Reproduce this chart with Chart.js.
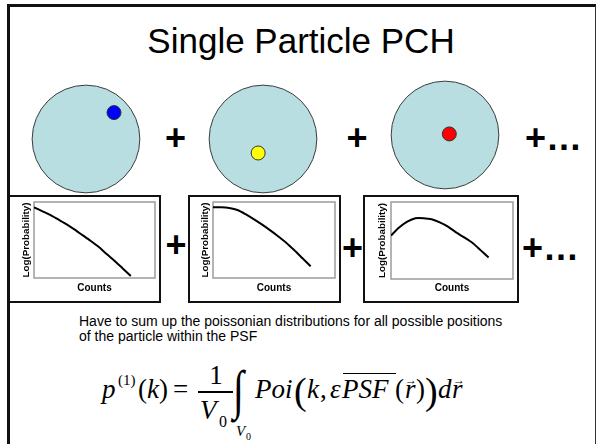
<!DOCTYPE html>
<html>
<head>
<meta charset="utf-8">
<script src="https://cdn.jsdelivr.net/npm/chart.js@4.4.0/dist/chart.umd.min.js"></script>
<style>
  html, body { margin: 0; padding: 0; background: #fff; }
  #slide { position: relative; width: 596px; height: 444px; overflow: hidden; background: #fff; }
  #frame { position: absolute; left: 7px; top: 4px; width: 589px; height: 460px; box-sizing: border-box;
           border-top: 3px solid #111; border-left: 3px solid #111; border-right: 1px solid #333; }
  .box { position: absolute; box-sizing: border-box; border: 2px solid #111; background: #fff; }
  canvas { position: absolute; }
  .t { position: absolute; white-space: nowrap; }
  .rule { position: absolute; background: #000; }
</style>
</head>
<body>
<div id="slide">
  <div id="frame"></div>
  <div class="box" style="left:8px;top:195px;width:153px;height:108px"></div>
  <div class="box" style="left:188px;top:195px;width:153px;height:108px"></div>
  <div class="box" style="left:363px;top:195px;width:156px;height:108px"></div>
  <canvas id="psf1" width="112" height="112"></canvas>
  <canvas id="psf2" width="112" height="112"></canvas>
  <canvas id="psf3" width="112" height="112"></canvas>
  <canvas id="pch1" width="149" height="104"></canvas>
  <canvas id="pch2" width="149" height="104"></canvas>
  <canvas id="pch3" width="152" height="104"></canvas>
</div>
<script>
// ---- data ----
// particle position inside the PSF volume, in units of the PSF radius
const particleX = [0.52, -0.09, 0.08];
const particleY = [0.49, -0.26, 0.02];
const particleColors = ['#0000ff', '#ffff00', '#ff0000'];
const psfRadius = 1;

// photon counts and log-probability of each single-position distribution
const counts = [0, 1, 2, 3, 4, 5, 6, 7, 8, 9, 10, 11, 12];
const logProbEdge   = [-0.7, -1.2, -1.7, -2.3, -2.9, -3.6, -4.35, -5.1, -5.9, -6.85, -7.75, -8.75, -9.75];
const logProbMid    = [-0.7, -0.7, -0.8, -1.05, -1.6, -2.25, -2.95, -3.7, -4.5, -5.35, -6.35, -7.4, -8.45];
const logProbCenter = [-4.35, -3.3, -2.55, -2.1, -2.1, -2.25, -2.65, -3.2, -3.95, -4.6, -5.3, -6.25, -7.2];

const xTitle = 'Counts';
const yTitle = 'Log(Probability)';

// ---- text helpers ----
const slide = document.getElementById('slide');
const SERIF = "'Liberation Serif', 'Times New Roman', serif";
const SANS = "'Liberation Sans', Arial, sans-serif";
function txt(str, x, base, size, o = {}) {
  const fam = o.family || SANS;
  const k = fam === SERIF ? 0.8375 : 0.8465;
  const s = document.createElement('span');
  s.className = 't';
  s.textContent = str;
  s.style.fontFamily = fam;
  s.style.fontSize = size + 'px';
  s.style.lineHeight = size + 'px';
  s.style.top = (base - k * size) + 'px';
  s.style.left = x + 'px';
  if (o.italic) s.style.fontStyle = 'italic';
  if (o.bold) s.style.fontWeight = 'bold';
  const tf = [];
  if (o.center) tf.push('translateX(-50%)');
  if (o.scaleY) tf.push('scaleY(' + o.scaleY + ')');
  if (tf.length) s.style.transform = tf.join(' ');
  s.style.color = '#000';
  slide.appendChild(s);
  return s;
}
function rule(x, y, w, h) {
  const d = document.createElement('div');
  d.className = 'rule';
  Object.assign(d.style, { left: x + 'px', top: y + 'px', width: w + 'px', height: h + 'px' });
  slide.appendChild(d);
}

// title
txt('Single Particle PCH', 301, 53, 35, { center: true });

// plus signs between the PSF pictures and between the histograms
txt('+', 175.5, 150, 36, { bold: true, center: true });
txt('+', 357, 150, 36, { bold: true, center: true });
txt('+\u2026', 525, 150, 36, { bold: true });
txt('+', 176, 257, 36, { bold: true, center: true });
txt('+', 352.5, 260, 36, { bold: true, center: true });
txt('+\u2026', 522, 260, 36, { bold: true });

// caption
txt('Have to sum up the poissonian distributions for all possible positions', 79, 326, 14);
txt('of the particle within the PSF', 79, 341, 14);

// formula  p(1)(k) = 1/V0 \int_{V0} Poi(k, eps PSF(r)) dr
const B = 399, F = 27;
txt('p', 102, B, F, { family: SERIF, italic: true });
txt('(1)', 118, B - 13, 15, { family: SERIF });
txt('(', 138, B, F, { family: SERIF });
txt('k', 147, B, F, { family: SERIF, italic: true });
txt(')', 159, B, F, { family: SERIF });
txt('=', 173, B, F, { family: SERIF });
txt('1', 216, B - 14, F, { family: SERIF, center: true });
rule(198, 391, 35, 1.5);
txt('V', 200, B + 21, F, { family: SERIF, italic: true });
txt('0', 219, B + 28, 16, { family: SERIF });
txt('\u222B', 233, B + 4, 40, { family: SERIF, scaleY: 1.35 });
txt('V', 236, B + 38, 15, { family: SERIF, italic: true });
txt('0', 246, B + 41, 10, { family: SERIF });
txt('Poi', 255, B, F, { family: SERIF, italic: true });
txt('(', 294, B + 5, 38, { family: SERIF });
txt('k', 307, B, F, { family: SERIF, italic: true });
txt(',', 320, B, F, { family: SERIF });
txt('\u03B5', 330, B, F, { family: SERIF, italic: true });
txt('PSF', 342, B, F, { family: SERIF, italic: true });
rule(343, 373, 53, 1.2);
txt('(', 395, B, F, { family: SERIF });
txt('r', 405, B, F, { family: SERIF, italic: true });
txt('\u2192', 405, B - 15, 12, { family: SERIF });
txt(')', 416, B, F, { family: SERIF });
txt(')', 425, B + 5, 38, { family: SERIF });
txt('d', 438, B, F, { family: SERIF, italic: true });
txt('r', 452, B, F, { family: SERIF, italic: true });
txt('\u2192', 453, B - 15, 12, { family: SERIF });

// ---- PSF pictures: observation volume with one particle in it ----
const psfFrames = [
  { x: 86, y: 138.5 },
  { x: 263, y: 138.5 },
  { x: 444.5, y: 135 }
];
function drawPsf(id, i) {
  const cv = document.getElementById(id);
  const f = psfFrames[i];
  cv.style.left = (f.x - cv.width / 2) + 'px';
  cv.style.top = (f.y - cv.height / 2) + 'px';
  const pxRadius = c => {
    const sx = c.chart.scales.x;
    return Math.abs(sx.getPixelForValue(psfRadius) - sx.getPixelForValue(0));
  };
  new Chart(cv, {
    type: 'scatter',
    data: {
      datasets: [
        { data: [{ x: particleX[i], y: particleY[i] }], pointRadius: 7,
          backgroundColor: particleColors[i], borderColor: '#333', borderWidth: 1 },
        { data: [{ x: 0, y: 0 }], pointRadius: pxRadius,
          backgroundColor: '#b8dee2', borderColor: '#3c3c3c', borderWidth: 1 }
      ]
    },
    options: {
      responsive: false, animation: false, events: [],
      layout: { autoPadding: false, padding: 0 },
      plugins: { legend: { display: false }, tooltip: { enabled: false } },
      scales: {
        x: { type: 'linear', min: -1.04, max: 1.04, display: false },
        y: { type: 'linear', min: -1.04, max: 1.04, display: false }
      },
      clip: false
    }
  });
}
drawPsf('psf1', 0);
drawPsf('psf2', 1);
drawPsf('psf3', 2);

// ---- photon counting histograms (log scale) ----
const pchFrames = [
  { cx: 10,  cy: 197, plot: [34, 202, 155, 278],  yTitleX: 26 },
  { cx: 190, cy: 197, plot: [213, 202, 335, 278], yTitleX: 205 },
  { cx: 365, cy: 197, plot: [391, 202, 513, 279], yTitleX: 382 }
];
const xTitleY = 288;
const yFont = { family: SANS, size: 9.8, weight: 'bold' };
const xFont = { family: SANS, size: 10, weight: 'bold' };

const plotBorder = {
  id: 'plotBorder',
  beforeDatasetsDraw(chart) {
    const a = chart.chartArea, c = chart.ctx;
    c.save();
    c.strokeStyle = '#9c9c9c';
    c.lineWidth = 1.5;
    c.strokeRect(a.left, a.top, a.right - a.left, a.bottom - a.top);
    c.restore();
  }
};

function drawPch(id, i, values) {
  const cv = document.getElementById(id);
  const f = pchFrames[i];
  cv.style.left = f.cx + 'px';
  cv.style.top = f.cy + 'px';
  const W = cv.width, H = cv.height;
  const [pl, pt, pr, pb] = f.plot.map((v, k) => v - (k % 2 ? f.cy : f.cx));
  const yLH = yFont.size * 1.2, xLH = xFont.size * 1.2;
  // left: layout padding + rotated title
  const titleCx = f.yTitleX - f.cx;
  const padL = titleCx - yLH / 2;
  const yTitleBottom = pl - padL - yLH;
  // bottom: title band below the plot
  const xTitleCy = xTitleY - f.cy;
  const padB = 4;
  const xTitlePadBottom = H - padB - xTitleCy - xLH / 2;
  const xTitlePadTop = (H - pb) - padB - xLH - xTitlePadBottom;

  new Chart(cv, {
    type: 'line',
    data: {
      datasets: [{
        data: counts.map((c, k) => ({ x: c, y: values[k] })),
        borderColor: '#000', borderWidth: 2, pointRadius: 0, tension: 0.25, fill: false
      }]
    },
    options: {
      responsive: false, animation: false, events: [],
      layout: { autoPadding: false, padding: { left: padL, right: W - pr, top: pt, bottom: padB } },
      plugins: { legend: { display: false }, tooltip: { enabled: false } },
      scales: {
        x: { type: 'linear', min: 0, max: 15,
             grid: { display: false, drawTicks: false, tickLength: 0 }, border: { display: false },
             ticks: { display: false },
             title: { display: true, text: xTitle, color: '#000', font: xFont,
                      padding: { top: xTitlePadTop, bottom: xTitlePadBottom } } },
        y: { type: 'linear', min: -10, max: 0,
             grid: { display: false, drawTicks: false, tickLength: 0 }, border: { display: false },
             ticks: { display: false },
             title: { display: true, text: yTitle, color: '#000', font: yFont,
                      padding: { top: 0, bottom: yTitleBottom } } }
      }
    },
    plugins: [plotBorder]
  });
}
drawPch('pch1', 0, logProbEdge);
drawPch('pch2', 1, logProbMid);
drawPch('pch3', 2, logProbCenter);
</script>
</body>
</html>
